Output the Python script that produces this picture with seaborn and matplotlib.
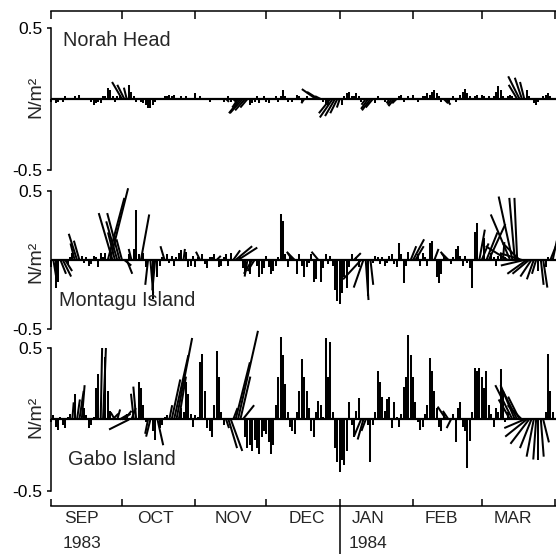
import numpy as np
import matplotlib
matplotlib.use("Agg")
import matplotlib.pyplot as plt
import matplotlib.transforms as mtransforms
from matplotlib.collections import LineCollection
import seaborn as sns

# daily wind stress (N/m^2), 1 Sep 1983 - 31 Mar 1984
# u = eastward component, v = northward component
norah_v = [
    -0.02, 0.01, -0.03, -0.02, 0.01, -0.02, 0.02, 0.01, -0.01, 0.01,
    0.02, 0.01, 0.03, 0.01, -0.01, -0.01, 0.01, -0.02, -0.04, -0.03,
    -0.02, -0.03, 0.02, 0.02, 0.08, 0.06, 0.02, -0.02, 0.02, 0.03,
    0.12, 0.10, 0.08, 0.10, 0.05, 0.02, -0.02, 0.01, -0.02, -0.03,
    -0.04, -0.06, -0.06, -0.04, -0.02, 0.01, 0.01, -0.01, 0.02, 0.02,
    0.03, 0.02, 0.03, -0.01, 0.01, 0.02, 0.01, 0.02, 0.01, -0.01,
    0.01, 0.04, 0.01, 0.02, -0.01, -0.01, 0.01, -0.02, -0.01, 0.01,
    -0.01, 0.01, -0.01, -0.02, -0.02, 0.02, -0.02, -0.03, -0.02, -0.06,
    -0.10, -0.10, -0.08, -0.06, -0.04, -0.03, -0.02, 0.02, -0.03, 0.01,
    0.02, -0.02, -0.03, -0.01, 0.01, 0.02, -0.02, 0.02, 0.06, 0.02,
    -0.02, 0.01, -0.02, 0.01, 0.03, 0.02, -0.02, -0.03, 0.02, 0.01,
    0.01, -0.01, 0.07, 0.05, 0.02, -0.02, -0.04, -0.05, -0.10, -0.13,
    -0.12, -0.10, -0.06, -0.04, 0.02, 0.04, 0.05, 0.02, 0.02, 0.04,
    0.02, -0.02, 0.01, -0.04, -0.07, -0.08, -0.06, -0.03, 0.02, -0.01,
    0.01, -0.02, -0.01, -0.03, -0.04, -0.05, -0.03, 0.02, 0.03, -0.02,
    0.01, 0.02, -0.01, 0.03, 0.01, -0.02, 0.01, 0.02, 0.02, 0.04,
    0.03, 0.05, 0.06, 0.04, 0.02, -0.02, -0.03, -0.04, -0.02, 0.01,
    0.02, -0.02, 0.01, 0.03, 0.05, 0.07, 0.04, 0.02, -0.01, 0.02,
    0.03, 0.01, 0.03, 0.02, 0.01, 0.02, -0.01, 0.02, 0.05, 0.09,
    0.06, 0.02, -0.01, 0.02, 0.03, 0.02, 0.01, 0.10, 0.16, 0.15,
    0.12, 0.06, 0.02, -0.01, -0.03, -0.04, -0.02, 0.01, 0.02, 0.03,
    0.04, 0.02, 0.01,
]
norah_u = [
    0, 0, 0, 0, 0, 0, 0, 0, 0, 0,
    0, 0, 0, 0, 0, 0, 0, 0, 0, 0,
    0, 0, 0, 0, 0, 0, 0, 0, 0, 0,
    -0.07, -0.05, -0.02, 0, 0, 0, 0, 0, 0, 0,
    0, 0, 0, 0, 0, 0, 0, 0, 0, 0,
    0, 0, 0, 0, 0, 0, 0, 0, 0, 0,
    0, 0, 0, 0, 0, 0, 0, 0, 0, 0,
    0, 0, 0, 0, 0.02, 0, 0, 0.03, 0, -0.04,
    -0.08, -0.09, -0.07, -0.05, 0, 0, 0, 0, 0, 0,
    0, 0, 0, 0, 0, 0, 0, 0, 0, 0,
    0, 0, 0, 0, 0, 0, 0, -0.02, 0, 0,
    0, 0, -0.10, -0.08, -0.04, 0, 0, 0, -0.08, -0.09,
    -0.07, -0.05, -0.02, 0, 0, 0, 0, 0, 0, 0,
    0, 0, 0, -0.03, -0.05, -0.06, -0.05, 0, 0, 0,
    0, 0, 0, -0.02, -0.03, -0.04, -0.03, 0, 0, 0,
    0, 0, 0, 0, 0, 0, 0, 0, 0, 0,
    0, 0, 0, 0, 0, 0, 0.03, 0.03, 0, 0,
    0, 0, 0, 0, 0, 0, 0, 0, 0, 0,
    0, 0, 0, 0, 0, 0, 0, 0, 0, 0,
    0, 0, 0, 0, 0, 0, 0, -0.06, -0.08, -0.05,
    -0.03, 0, 0, 0, 0, 0, 0, 0, 0, 0,
    0, 0, 0,
]

montagu_v = [
    -0.05, -0.12, -0.20, -0.16, -0.10, -0.12, -0.08, -0.03, 0.02, 0.05,
    0.12, 0.19, 0.14, 0.03, -0.02, 0.02, -0.04, -0.03, 0.03, 0.02,
    -0.05, 0.05, 0.02, 0.05, 0.45, 0.52, 0.34, 0.20, 0.28, 0.34,
    0.15, -0.04, -0.10, 0.04, 0.08, 0.08, 0.36, 0.04, 0.33, 0.05,
    -0.05, -0.18, -0.24, -0.28, -0.22, -0.12, -0.04, 0.02, 0.10, 0.04,
    -0.02, 0.03, -0.04, 0.02, 0.05, 0.07, 0.08, 0.06, -0.05, -0.04,
    0.03, -0.05, 0.02, 0.06, 0.04, -0.03, -0.06, 0.02, 0.02, 0.04,
    0.03, -0.05, -0.04, 0.02, 0.04, -0.04, 0.05, 0.07, 0.10, 0.09,
    0.02, -0.06, -0.10, -0.12, -0.10, -0.10, -0.08, -0.04, -0.12, -0.10,
    -0.06, 0.03, -0.05, -0.10, -0.08, -0.04, 0.02, 0.33, 0.28, 0.04,
    -0.05, 0.03, 0.06, 0.05, -0.10, 0.04, -0.04, -0.12, -0.05, -0.02,
    0.04, -0.16, -0.14, 0.06, -0.16, -0.06, 0.04, -0.03, 0.03, -0.04,
    -0.22, -0.30, -0.32, -0.24, -0.12, -0.20, -0.05, 0.04, 0.05, 0.02,
    -0.05, -0.14, -0.20, -0.29, -0.26, -0.18, -0.02, 0.03, 0.02, -0.03,
    0.02, -0.04, -0.02, 0.03, 0.04, -0.03, -0.05, 0.12, 0.04, -0.17,
    -0.04, 0.06, 0.10, 0.15, 0.10, 0.04, -0.04, 0.05, 0.02, -0.04,
    0.12, 0.14, 0.08, -0.12, -0.17, -0.10, 0.02, 0.06, 0.05, -0.03,
    0.02, 0.08, 0.10, 0.03, -0.04, 0.03, -0.02, -0.06, -0.20, 0.20,
    0.27, 0.22, 0.12, 0.16, 0.20, 0.26, 0.05, 0.02, -0.04, 0.03,
    0.04, 0.13, 0.02, 0.10, 0.33, 0.46, 0.45, 0.45, 0.12, 0.05,
    -0.04, -0.10, -0.10, -0.12, -0.14, -0.10, -0.08, -0.18, -0.20, -0.05,
    0.02, 0.10, 0.14,
]
montagu_u = [
    0, 0.02, 0, 0, 0.04, 0.06, 0.05, 0, 0, 0,
    -0.03, -0.06, -0.04, 0, 0, 0, 0, 0, 0, 0,
    0, 0, 0, 0, 0.12, 0.13, -0.10, -0.05, -0.08, -0.09,
    -0.04, 0.05, 0.04, 0, -0.02, 0, 0, 0, 0.06, 0,
    0, -0.02, 0.02, 0, -0.02, 0, 0, 0, -0.03, 0,
    0, 0, 0, 0, 0, 0, 0.01, 0, 0, 0,
    0, 0, 0, -0.03, 0, 0, 0, 0, 0, 0,
    0.03, 0, 0, 0, 0, 0, 0, 0.05, 0.12, 0.14,
    0, 0, 0, -0.02, 0, -0.06, -0.05, 0, 0, 0,
    0, 0, 0, 0, 0, 0, 0, 0, 0, 0,
    0, 0, -0.04, -0.05, 0, 0, 0, 0, 0, 0,
    0, 0, 0, -0.05, 0, 0, 0, 0, 0, 0,
    0, 0, 0, 0, 0, 0, 0, 0, 0.05, 0,
    0, -0.13, -0.07, 0.02, 0, 0.02, 0, 0, 0, 0,
    0, 0, 0, 0, 0, 0, 0, 0, 0, 0,
    0, 0, 0.04, 0.08, 0.06, 0, 0, 0, 0, 0,
    0, 0, 0.03, 0, 0, 0, 0, -0.04, -0.05, 0,
    0, 0, 0, 0, 0, 0, 0, 0, 0, 0,
    0, 0.04, 0.05, 0, 0.08, 0.12, 0, 0, 0, 0,
    0, 0.01, 0, -0.16, -0.14, -0.10, -0.04, -0.02, -0.12, -0.16,
    -0.17, -0.14, -0.12, -0.08, -0.05, -0.03, 0, 0.02, 0.03, 0,
    0, 0.04, 0.03,
]

gabo_v = [
    -0.02, 0.03, -0.05, -0.07, 0.02, -0.04, -0.06, 0.02, 0.04, 0.12,
    0.18, 0.14, 0.20, 0.24, 0.08, 0.03, -0.06, -0.04, 0.02, 0.22,
    0.32, 0.50, 0.50, 0.44, 0.20, 0.06, 0.04, 0.05, 0.07, 0.03,
    0.04, 0.06, 0.04, -0.07, 0.08, 0.18, 0.23, 0.26, 0.22, 0.10,
    -0.02, -0.10, -0.12, -0.08, -0.14, -0.18, -0.06, -0.04, 0.02, 0.03,
    0.10, 0.28, 0.45, 0.57, 0.30, 0.08, 0.05, 0.26, 0.18, 0.04,
    -0.05, 0.03, 0.02, 0.40, 0.46, 0.20, -0.06, -0.08, -0.12, 0.10,
    0.48, 0.30, 0.05, -0.04, -0.06, -0.20, -0.22, 0.08, 0.40, 0.62,
    0.30, 0.10, -0.12, -0.20, -0.18, -0.22, -0.14, -0.20, -0.24, -0.12,
    -0.08, -0.10, -0.16, -0.24, -0.18, 0.10, 0.30, 0.58, 0.45, 0.25,
    0.05, -0.05, -0.08, -0.10, 0.05, 0.20, 0.42, 0.30, 0.20, 0.08,
    -0.08, -0.12, 0.05, 0.13, 0.10, 0.02, 0.57, 0.30, 0.54, 0.05,
    -0.20, -0.30, -0.37, -0.28, -0.32, -0.22, 0.12, -0.04, -0.12, 0.06,
    0.15, -0.12, -0.14, -0.08, -0.04, -0.30, -0.04, 0.05, 0.34, 0.26,
    0.16, 0.06, 0.14, 0.16, -0.06, 0.12, 0.02, -0.05, 0.04, 0.23,
    0.30, 0.59, 0.45, 0.30, 0.12, -0.02, -0.07, -0.05, 0.04, 0.10,
    0.43, 0.34, 0.20, 0.08, -0.05, -0.08, 0.05, 0.09, 0.06, -0.06,
    0.04, -0.16, 0.08, 0.12, -0.05, -0.08, -0.34, -0.15, 0.05, 0.36,
    0.34, 0.36, 0.30, 0.22, 0.34, 0.10, 0.04, -0.05, 0.08, 0.05,
    0.35, 0.20, -0.02, 0.05, 0.14, 0.24, 0.24, 0.20, 0.16, 0.10,
    -0.06, -0.12, -0.17, -0.20, -0.26, -0.28, -0.28, -0.26, -0.16, 0.05,
    0.46, 0.20, 0.05,
]
gabo_u = [
    0, 0, 0, 0, 0, 0, 0, 0, 0, 0.01,
    0, 0.02, 0.03, 0.02, 0, 0, 0, 0, 0, 0,
    0, 0.01, 0.02, 0, 0, 0, 0.04, -0.03, 0.02, 0.05,
    0.06, 0.05, 0, -0.14, 0.03, -0.02, -0.02, 0, 0, 0,
    0, -0.02, -0.03, 0, 0, 0.04, 0, 0, 0, 0,
    0.02, 0.06, 0.10, 0.11, 0.05, 0, 0, 0, 0, 0,
    0, 0, 0, 0, 0, 0, 0, 0, 0, 0,
    0, 0, 0, 0, 0.02, 0.06, 0.08, 0.03, 0.10, 0.14,
    0.07, 0.08, 0, 0, 0, 0, 0, 0, 0, 0,
    0, 0, 0, 0, 0, 0, 0, 0, 0, 0,
    0, 0, 0, 0, 0, 0, 0, 0, 0, 0,
    0, 0, 0, 0, 0, 0, 0, 0, 0, 0,
    0, 0, 0, 0, 0, 0, 0, 0, 0, 0,
    0, -0.05, -0.04, -0.03, 0, 0, 0, 0, 0, 0,
    0, 0, 0, 0, 0, 0, 0, 0, 0, 0,
    0, 0, 0, 0, 0, 0, 0, 0, 0, 0,
    0, 0, 0, 0, 0, 0, 0, -0.06, -0.04, -0.03,
    0, 0, 0, 0, 0, 0, 0, 0, 0, 0,
    0, 0, 0, 0, 0, 0, 0, 0, 0, 0,
    0, 0, 0, 0, -0.08, -0.12, -0.10, -0.10, -0.08, -0.10,
    -0.14, -0.15, -0.13, -0.08, -0.05, -0.02, 0, 0.02, 0.04, 0,
    0, 0, 0,
]

stations = ["Norah Head", "Montagu Island", "Gabo Island"]
month_names = ["SEP", "OCT", "NOV", "DEC", "JAN", "FEB", "MAR"]
month_starts = [0, 30, 61, 91, 122, 153, 182, 213]   # day number of the 1st
label_days = [13, 44, 77, 108, 134, 165, 195]
year_labels = {0: "1983", 4: "1984"}

days = np.arange(len(gabo_v))

sns.set_style("ticks")
plt.rcParams["font.family"] = ["Liberation Sans", "DejaVu Sans"]

W, H = 556, 554
fig = plt.figure(figsize=(W / 100, H / 100), dpi=100)


def box(x0, y0, x1, y1):
    return [x0 / W, 1 - y1 / H, (x1 - x0) / W, (y1 - y0) / H]


ax1 = fig.add_axes(box(51, 11, 556, 170))
ax2 = fig.add_axes(box(51, 191, 556, 329))
ax3 = fig.add_axes(box(51, 348, 556, 506))
axes = [ax1, ax2, ax3]
ax1.set_ylim(-0.5, 0.62)
ax2.set_ylim(-0.5, 0.5)
ax3.set_ylim(-0.605, 0.5)

data = [(norah_u, norah_v), (montagu_u, montagu_v), (gabo_u, gabo_v)]
for ax, (u, v) in zip(axes, data):
    ax.set_xlim(0, 213.4)
    # make sticks isotropic in screen space
    bb = ax.get_window_extent()
    y0, y1 = ax.get_ylim()
    x0, x1 = ax.get_xlim()
    k = (bb.height / (y1 - y0)) / (bb.width / (x1 - x0))
    segs = [[(t, 0.0), (t + k * uu, vv)] for t, uu, vv in zip(days, u, v)]
    ax.add_collection(LineCollection(segs, colors="black", linewidths=1.45,
                                     clip_on=False, capstyle="butt"))
    ax.axhline(0, color="black", lw=1.6)

    sns.despine(ax=ax, top=True, right=True, bottom=True)
    ax.spines["left"].set_bounds(-0.5, 0.5)
    ax.spines["left"].set_linewidth(1.1)
    ax.spines["left"].set_color("black")
    ax.set_yticks([-0.5, 0.5])
    ax.set_yticklabels(["-0.5", "0.5"])
    ax.tick_params(axis="y", direction="out", length=3, width=1.1,
                   pad=3, labelsize=12.5, colors="black")
    ax.set_xticks([])
    ax.patch.set_alpha(0)

# top frame line with month ticks
ax1.spines["top"].set_visible(True)
ax1.spines["top"].set_linewidth(1.1)
ax1.spines["top"].set_color("black")
ax1.xaxis.set_ticks_position("top")
ax1.set_xticks(month_starts)
ax1.tick_params(axis="x", direction="in", length=6, width=1.1, labeltop=False,
                colors="black")

# bottom time axis
ax3.spines["bottom"].set_visible(True)
ax3.spines["bottom"].set_linewidth(1.1)
ax3.spines["bottom"].set_color("black")
ax3.set_xticks(month_starts)
ax3.tick_params(axis="x", direction="in", length=5, width=1.1, labelbottom=False,
                colors="black")

trans = mtransforms.blended_transform_factory(ax3.transData, ax3.transAxes)
for i, (name, x) in enumerate(zip(month_names, label_days)):
    ax3.text(x, -0.078, name, transform=trans, ha="center", va="center", fontsize=12.5)
    if i in year_labels:
        ax3.text(x, -0.236, year_labels[i], transform=trans, ha="center",
                 va="center", fontsize=12.5)
ax3.plot([month_starts[4], month_starts[4]], [0, -0.32], transform=trans,
         color="black", lw=1.1, clip_on=False)

# station names
ax1.text(5, 0.815, stations[0], transform=mtransforms.blended_transform_factory(
    ax1.transData, ax1.transAxes), ha="left", va="center", fontsize=14.3)
ax2.text(3.4, 0.21, stations[1], transform=mtransforms.blended_transform_factory(
    ax2.transData, ax2.transAxes), ha="left", va="center", fontsize=14.3)
ax3.text(7, 0.297, stations[2], transform=mtransforms.blended_transform_factory(
    ax3.transData, ax3.transAxes), ha="left", va="center", fontsize=14.3)

# y labels
for yc in [97, 262, 417]:
    fig.text(36 / W, 1 - yc / H, "N/m²", rotation=90, ha="center", va="center",
             fontsize=14)

fig.savefig("out.png", dpi=100)
